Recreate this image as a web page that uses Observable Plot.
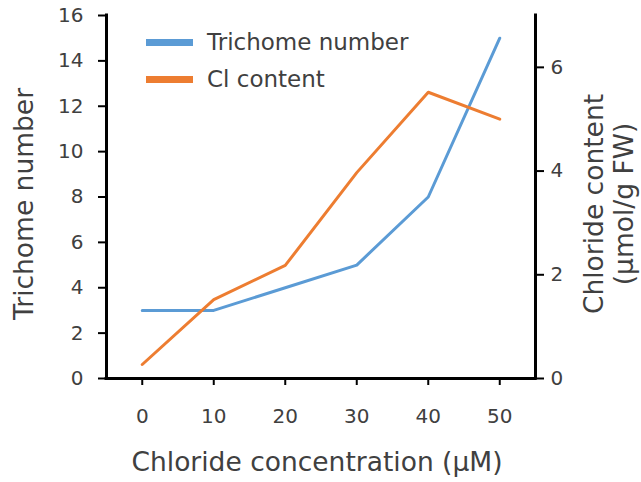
<!DOCTYPE html>
<html><head><meta charset="utf-8">
<script src="https://cdn.jsdelivr.net/npm/d3@7"></script>
<script src="https://cdn.jsdelivr.net/npm/@observablehq/plot@0.6"></script>
<style>
body{margin:0;background:#fff;font-family:"DejaVu Sans",Verdana,sans-serif}
#wrap{position:relative;width:641px;height:482px;overflow:hidden}
#legend{position:absolute;left:146px;top:24px;font-size:23px;color:#404040;line-height:37px}
#legend .row{display:flex;align-items:center;height:37px}
#legend .sw{display:inline-block;width:47px;height:7px;margin-right:14px}
</style></head><body><div id="wrap"></div>
<script>
const concentration = [0, 10, 20, 30, 40, 50];
const trichomeNumber = [3, 3, 4, 5, 8, 15];
const clContent = [0.27, 1.52, 2.18, 3.97, 5.52, 5.0];
const xTicks = [0, 10, 20, 30, 40, 50];
const leftTicks = [0, 2, 4, 6, 8, 10, 12, 14, 16];
const rightTicks = [0, 2, 4, 6];
const seriesNames = ["Trichome number", "Cl content"];
const seriesColors = ["#5b9bd5", "#ed7d31"];
const xTitle = "Chloride concentration (μM)";
const leftTitle = "Trichome number";
const rightTitle = "Chloride content\n(μmol/g FW)";
const leftMax = 16, rightMax = 7;
const k = leftMax / rightMax;

const rowsT = concentration.map((x, i) => ({x, y: trichomeNumber[i]}));
const rowsC = concentration.map((x, i) => ({x, y: clContent[i] * k}));

const chart = Plot.plot({
  width: 641, height: 482,
  marginLeft: 106, marginRight: 106, marginTop: 15, marginBottom: 104,
  style: {fontFamily: "DejaVu Sans, Verdana, sans-serif", fontSize: "20px", color: "#404040", background: "#fff", overflow: "visible"},
  x: {domain: [-5, 55]},
  y: {domain: [0, leftMax]},
  marks: [
    Plot.axisX({ticks: xTicks, tickSize: 7, tickPadding: 23, label: null, stroke: "#000", strokeWidth: 2, tickFormat: d => d}),
    Plot.axisY({ticks: leftTicks, anchor: "left", tickSize: 8, tickPadding: 15, label: null, stroke: "#000", strokeWidth: 2, tickFormat: d => d}),
    Plot.axisY({ticks: rightTicks.map(v => v * k), anchor: "right", tickSize: 8, tickPadding: 7, label: null, stroke: "#000", strokeWidth: 2, tickFormat: d => Math.round(d / k)}),
    Plot.ruleY([0], {stroke: "#000", strokeWidth: 3, strokeLinecap: "square"}),
    Plot.ruleX([-5], {stroke: "#000", strokeWidth: 3, strokeLinecap: "square"}),
    Plot.ruleX([55], {stroke: "#000", strokeWidth: 3, strokeLinecap: "square"}),
    Plot.line(rowsT, {x: "x", y: "y", stroke: seriesColors[0], strokeWidth: 3}),
    Plot.line(rowsC, {x: "x", y: "y", stroke: seriesColors[1], strokeWidth: 3}),
    Plot.text([xTitle], {text: d => d, frameAnchor: "bottom", textAnchor: "middle", lineAnchor: "middle", dx: -4, dy: 84, fontSize: 26.5, fill: "#404040"}),
    Plot.text([leftTitle], {text: d => d, frameAnchor: "left", textAnchor: "middle", lineAnchor: "middle", rotate: -90, dx: -82, dy: 7, fontSize: 26.5, fill: "#404040"}),
    Plot.text([rightTitle], {text: d => d, frameAnchor: "right", textAnchor: "middle", lineAnchor: "middle", rotate: -90, dx: 73, dy: 7, fontSize: 26.5, lineHeight: 1.12, fill: "#404040"})
  ]
});
const wrap = document.getElementById("wrap");
wrap.appendChild(chart);
const legend = document.createElement("div");
legend.id = "legend";
seriesNames.forEach((n, i) => {
  const row = document.createElement("div");
  row.className = "row";
  const sw = document.createElement("span");
  sw.className = "sw";
  sw.style.background = seriesColors[i];
  row.appendChild(sw);
  row.appendChild(document.createTextNode(n));
  legend.appendChild(row);
});
wrap.appendChild(legend);
</script></body></html>
